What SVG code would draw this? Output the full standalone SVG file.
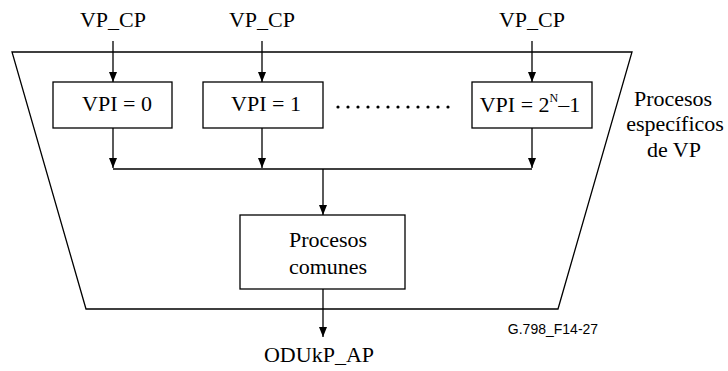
<svg xmlns="http://www.w3.org/2000/svg" width="728" height="371" viewBox="0 0 728 371">
<style>
.t{font-family:"Liberation Serif","Times New Roman",Times,serif;font-size:22px;fill:#000;text-anchor:middle}
.s{font-family:"Liberation Sans",Arial,sans-serif;font-size:14px;fill:#000;text-anchor:middle}
.b{fill:#fff;stroke:#000;stroke-width:1.3}
.l{fill:none;stroke:#000;stroke-width:1.3}
.a{fill:none;stroke:#000;stroke-width:1.3;marker-end:url(#ah)}
</style>
<defs>
<marker id="ah" viewBox="0 0 10 8" refX="10" refY="4" markerWidth="10" markerHeight="8" markerUnits="userSpaceOnUse" orient="auto">
<path d="M0,0 L10,4 L0,8 z" fill="#000"/>
</marker>
</defs>
<rect width="728" height="371" fill="#fff"/>
<g id="frame">
<path class="l" d="M12,52 L632,52 L558,309 L86,309 Z"/>
<text class="t" x="673" y="106">Procesos</text>
<text class="t" x="675" y="131">específicos</text>
<text class="t" x="674" y="157">de VP</text>
</g>
<g id="vpcp0"><text class="t" x="113" y="27">VP_CP</text></g>
<g id="vpcp1"><text class="t" x="262" y="27">VP_CP</text></g>
<g id="vpcp2"><text class="t" x="532" y="27">VP_CP</text></g>
<g id="vpi0">
<rect class="b" x="53" y="82" width="119" height="46"/>
<text class="t" x="117" y="111">VPI = 0</text>
</g>
<g id="vpi1">
<rect class="b" x="203" y="82" width="120" height="46"/>
<text class="t" x="266" y="111">VPI = 1</text>
</g>
<g id="vpiN">
<rect class="b" x="472" y="82" width="120" height="46"/>
<text class="t" x="530" y="112">VPI = 2<tspan font-size="12" dy="-10">N</tspan><tspan dy="10">–1</tspan></text>
</g>
<g id="dots" fill="#000">
<circle cx="338" cy="107" r="1.6"/><circle cx="348" cy="107" r="1.6"/><circle cx="358" cy="107" r="1.6"/>
<circle cx="368" cy="107" r="1.6"/><circle cx="378" cy="107" r="1.6"/><circle cx="388" cy="107" r="1.6"/>
<circle cx="398" cy="107" r="1.6"/><circle cx="408" cy="107" r="1.6"/><circle cx="418" cy="107" r="1.6"/>
<circle cx="428" cy="107" r="1.6"/><circle cx="438" cy="107" r="1.6"/><circle cx="448" cy="107" r="1.6"/>
</g>
<g id="common">
<rect class="b" x="240" y="215" width="165" height="74"/>
<text class="t" x="328" y="247">Procesos</text>
<text class="t" x="328" y="274">comunes</text>
</g>
<g id="odukp"><text class="t" x="319" y="362">ODUkP_AP</text></g>
<g id="label"><text class="s" x="553" y="334">G.798_F14-27</text></g>
<g id="connectors">
<line class="a" x1="113" y1="41" x2="113" y2="82"/>
<line class="a" x1="262" y1="41" x2="262" y2="82"/>
<line class="a" x1="532" y1="41" x2="532" y2="82"/>
<line class="a" x1="113" y1="128" x2="113" y2="168"/>
<line class="a" x1="262" y1="128" x2="262" y2="168"/>
<line class="a" x1="532" y1="128" x2="532" y2="168"/>
<line class="l" x1="113" y1="169" x2="532" y2="169"/>
<line class="a" x1="323" y1="169" x2="323" y2="215"/>
<line class="a" x1="323" y1="289" x2="323" y2="337"/>
</g>
</svg>
